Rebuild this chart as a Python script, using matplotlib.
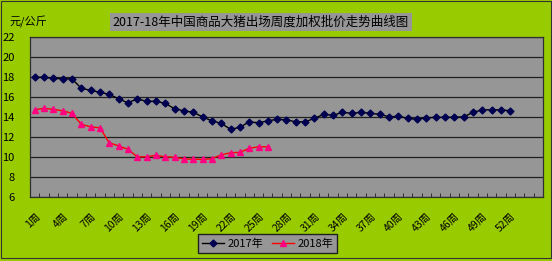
import matplotlib
matplotlib.use("Agg")
import matplotlib.pyplot as plt
from matplotlib.patches import Rectangle

plt.rcParams['font.family'] = ['Noto Sans CJK SC', 'DejaVu Sans']

# weekly prices, yuan/kg
weeks_2017 = list(range(1, 53))
price_2017 = [18.0, 18.0, 17.9, 17.85, 17.85, 16.9, 16.7, 16.5, 16.3, 15.85,
              15.45, 15.85, 15.6, 15.6, 15.4, 14.85, 14.65, 14.5, 14.05, 13.65,
              13.4, 12.8, 13.0, 13.55, 13.45, 13.65,
              13.8, 13.75, 13.55, 13.55, 13.9, 14.3, 14.2, 14.5, 14.4, 14.5,
              14.4, 14.3, 14.05, 14.1, 13.9, 13.8, 13.95, 14.0, 14.0, 14.0,
              14.05, 14.5, 14.75, 14.75, 14.75, 14.65]
weeks_2018 = list(range(1, 27))
price_2018 = [14.75, 14.9, 14.8, 14.65, 14.4, 13.3, 13.05, 12.95, 11.45, 11.15,
              10.8, 10.05, 10.05, 10.2, 10.05, 10.0, 9.85, 9.8, 9.8, 9.85,
              10.25, 10.45, 10.5, 10.9, 11.05, 11.05]
n_cats = 55
tick_weeks = list(range(1, 53, 3))
tick_labels = [f"{w}周" for w in tick_weeks]

green = '#99CC00'
grey = '#969696'

fig = plt.figure(figsize=(5.52, 2.61), dpi=100, facecolor=green)
fig.patches.append(Rectangle((0.002, 0.01), 0.996, 0.985, transform=fig.transFigure,
                             fill=False, edgecolor='#333333', lw=0.8))

ax = fig.add_axes([0.0543, 0.244, 0.9294, 0.613])
ax.set_facecolor(grey)

ax.plot(weeks_2017, price_2017, color='black', lw=1.0, marker='D', markersize=3.5,
        markerfacecolor='#000050', markeredgecolor='#000050', label='2017年', zorder=3)
ax.plot(weeks_2018, price_2018, color='#FF0000', lw=1.0, marker='^', markersize=4.5,
        markerfacecolor='#FF0080', markeredgecolor='#FF0080', label='2018年', zorder=3)

ax.set_xlim(0.5, n_cats + 0.5)
ax.set_ylim(6, 22)
ax.set_yticks(range(6, 23, 2))
ax.yaxis.grid(True, color='#202020', lw=0.9)
ax.set_axisbelow(True)
ax.tick_params(axis='y', length=0, labelsize=8, pad=11)

ax.set_xticks(tick_weeks)
ax.set_xticklabels(tick_labels, rotation=45, ha='right', va='top',
                   rotation_mode='anchor', fontsize=7.5)
ax.tick_params(axis='x', length=0, pad=10)
ax.set_xticks([i + 0.5 for i in range(0, n_cats + 1)], minor=True)
ax.tick_params(axis='x', which='minor', direction='in', length=3, color='#202020')

for s in ax.spines.values():
    s.set_color('#303030')
    s.set_linewidth(0.9)

fig.text(0.018, 0.915, '元/公斤', fontsize=8, va='center', ha='left')
fig.text(0.473, 0.915, '2017-18年中国商品大猪出场周度加权批价走势曲线图', fontsize=9,
         va='center', ha='center',
         bbox=dict(boxstyle='square,pad=0.2', facecolor=grey, edgecolor='none'))

leg = fig.legend(loc='center', bbox_to_anchor=(0.485, 0.067), ncol=2, fontsize=8,
                 frameon=True, fancybox=False, borderpad=0.35, handlelength=2.0,
                 columnspacing=0.8, handletextpad=0.3)
leg.get_frame().set_facecolor(grey)
leg.get_frame().set_edgecolor('#202020')
leg.get_frame().set_alpha(1)

fig.savefig('out.png', dpi=100, facecolor=green)
